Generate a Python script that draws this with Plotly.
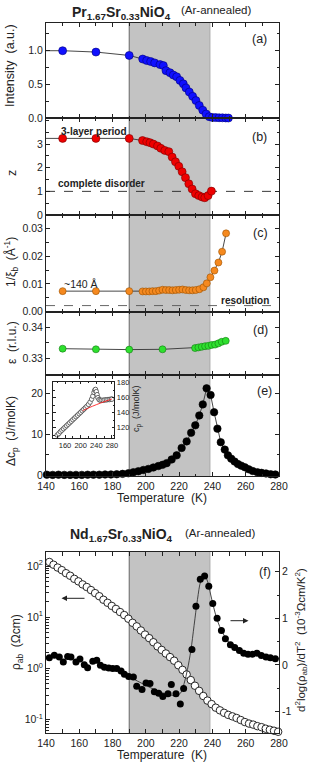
import plotly.graph_objects as go

W, H = 312, 763
FONT = "Liberation Sans, Arial, Helvetica, sans-serif"
INK = "#222222"

# ---------------- data ----------------
# (a) superlattice intensity
T_a = [150, 170, 190, 198.1, 200.5, 202.9, 205.3, 208.5, 210.5, 212.1, 214.5, 216.5, 218.5,
       220.5, 222.5, 224.1, 226.1, 228.1, 230.1, 232.1, 234.2, 236.2, 238.1, 240.0, 242.0,
       244.0, 246.0, 248.0, 249.6]
intensity = [1.0, 0.98, 0.93, 0.877, 0.855, 0.84, 0.82, 0.795, 0.78, 0.705, 0.675, 0.64, 0.615,
             0.56, 0.51, 0.45, 0.389, 0.325, 0.262, 0.19, 0.12, 0.064, 0.024, 0.012, 0.01,
             0.008, 0.007, 0.005, 0.004]
a_start_T, a_start = 140, 1.0

# (b) stacking z
T_b = [150, 170, 190, 198, 200.5, 202.5, 204.5, 207, 209, 211.4, 213.8, 215.8, 217.8, 219.8,
       221.8, 223.8, 225.8, 227.8, 229.8, 231.8, 233.8, 235.4, 237.4, 239.4]
z_vals = [3.24, 3.24, 3.24, 3.15, 3.10, 3.06, 3.00, 2.92, 2.82, 2.73, 2.68, 2.45, 2.25, 2.06,
          1.83, 1.58, 1.32, 1.10, 0.90, 0.82, 0.76, 0.73, 0.82, 1.01]
b_start_T, b_start = 140, 3.24
z_disorder = 1.0

# (c) inverse correlation length
T_c = [150, 170, 190, 198, 200, 202, 204, 206, 208, 210, 212, 214, 216, 218, 220, 222, 224,
       226, 228, 230, 232.2, 234.6, 236.6, 238.8, 241.2, 243.6, 245.8, 248.2]
inv_xi = [0.0074, 0.0074, 0.0074, 0.0073, 0.0073, 0.0073, 0.0074, 0.0074, 0.0076, 0.0079,
          0.0078, 0.0078, 0.0077, 0.0078, 0.0079, 0.0080, 0.0078, 0.0077, 0.0077, 0.0078,
          0.0081, 0.0088, 0.0102, 0.0124, 0.0148, 0.0177, 0.0216, 0.0282]
resolution = 0.0022

# (d) incommensurability
T_d = [150, 170, 190, 210, 229.6, 231.6, 233.6, 235.6, 237.6, 239.6, 241.6, 243.6, 245.6, 248]
eps = [0.3331, 0.3329, 0.3328, 0.3329, 0.3333, 0.3335, 0.3337, 0.3339, 0.3340, 0.3343,
       0.3344, 0.3348, 0.3353, 0.3356]

# (e) excess specific heat
T_e = [140.5, 144, 147.5, 151, 154.5, 158, 161.5, 165, 168.5, 172, 175.5, 179, 182.5, 186,
       189.5, 192.5, 195.5, 198.5, 201.5, 204.5, 207.5, 210, 212.5, 215.5, 218.5, 221.5,
       224.5, 227.2, 229.7, 232.1, 234.2, 236.5, 238.9, 241, 243, 245, 247.4, 249.3, 251.3,
       253.3, 255.3, 257.3, 259.5, 261.8, 264.2, 267, 269.5, 272.2, 275, 277.8]
dcp = [0.2, 0.15, 0.2, 0.15, 0.15, 0.15, 0.15, 0.2, 0.2, 0.2, 0.25, 0.25, 0.3, 0.4,
       0.55, 0.8, 1.05, 1.35, 1.6, 1.95, 2.3, 2.6, 3.0, 3.9, 4.9, 6.7,
       8.3, 10.4, 12.2, 14.6, 17.3, 21.2, 19.6, 15.4, 11.4, 8.1, 6.3, 4.9, 4.1,
       3.4, 2.8, 2.4, 2.0, 1.5, 1.1, 0.8, 0.65, 0.5, 0.3, 0.25]

# (e) inset: total specific heat and background
T_cp = [140, 144, 148, 152, 156, 160, 164, 168, 172, 176, 180, 184, 188, 192, 196, 200, 204,
        208, 212, 216, 220, 224, 228, 231, 234, 236, 238, 240, 242, 244, 247, 250, 254, 258,
        262, 266, 270, 274, 278, 280]
cp = [110, 112, 114.5, 116.5, 118.5, 120.5, 122.5, 124.5, 126.5, 128.5, 130.5, 132.5, 134.5,
      136.5, 138.5, 140.5, 142.5, 144.5, 146.5, 148.5, 151, 154, 158, 162, 167, 170, 171,
      168, 164, 160, 157.5, 156.5, 156.5, 156.5, 157, 157, 157.5, 157.5, 158, 158]
T_bg = [205, 210, 220, 230, 240, 250, 260, 270, 280]
cp_bg = [142.5, 143.8, 146.2, 148.5, 150.6, 152.6, 154.6, 156.4, 158.2]

# (f) Nd compound resistivity
T_rho = [142, 144.5, 147, 149.5, 152, 154.5, 157, 159.5, 162, 164.5, 167, 169.5, 172, 174.5,
         177, 179.5, 182, 184.5, 187, 189.5, 192, 194.5, 197, 199.5, 202, 204.5, 207, 209.5,
         212, 214.5, 217, 219.5, 222, 224.5, 227, 229.5, 232, 234.5, 237, 239.5, 242, 244.5,
         247, 249.5, 252, 254.5, 257, 259.5, 262, 264.5, 267, 269.5, 272, 274.5, 277, 279.5]
rho = [120, 106, 93.3, 83.2, 72.4, 64.6, 56.2, 50.1, 43.7, 38.9, 33.9, 29.5, 25.7, 21.9,
       19.1, 16.6, 14.5, 12.6, 11.0, 9.33, 7.76, 6.61, 5.50, 4.57, 3.89, 3.24, 2.69, 2.29,
       1.95, 1.66, 1.41, 1.15, 0.933, 0.759, 0.589, 0.457, 0.363, 0.288, 0.234, 0.200,
       0.170, 0.151, 0.135, 0.123, 0.115, 0.107, 0.0977, 0.0891, 0.0832, 0.0794, 0.0741,
       0.0708, 0.0661, 0.0631, 0.0603, 0.0575]

T_d2 = [142, 145, 148, 150.4, 153, 155, 158, 160.4, 163, 165, 168.1, 170.5, 172.7, 175.1,
        177.7, 180.1, 182.5, 185.1, 187.1, 189.7, 192.5, 194.5, 197.7, 200.1, 202.5, 205.1,
        207.7, 210.2, 213.3, 215.3, 218.1, 220.7, 222.7, 227.7, 230.1, 232.7, 235.3, 237.8,
        240.2, 242.8, 245.4, 247.8, 250.8, 253.4, 256.2, 258.8, 261.4, 264.2, 266.8, 269.4,
        272.2, 274.8, 277.8]
d2 = [0.155, 0.205, 0.17, 0.06, 0.18, 0.17, 0.06, 0.125, 0.0, -0.06, 0.08, 0.10, -0.01, -0.05,
      -0.07, -0.08, -0.08, -0.13, -0.20, -0.25, -0.26, -0.46, -0.53, -0.39, -0.40, -0.58,
      -0.61, -0.68, -0.62, -0.42, -0.62, -0.84, -0.51, 0.33, 1.26, 1.84, 1.91, 1.69,
      1.32, 1.0, 0.74, 0.56, 0.43, 0.37, 0.31, 0.25, 0.23, 0.23, 0.25, 0.20,
      0.17, 0.155, 0.13]
T_d2fit = [185, 190, 195, 200, 205, 210, 214, 218, 221, 223, 225, 227, 229, 231, 233, 235, 237,
           239, 241, 243, 246, 250, 255, 260, 265, 270, 275, 280]
d2fit = [-0.16, -0.25, -0.35, -0.44, -0.53, -0.6, -0.64, -0.66, -0.6, -0.4, -0.1, 0.3, 0.85,
         1.4, 1.8, 1.93, 1.8, 1.5, 1.2, 0.95, 0.7, 0.48, 0.34, 0.26, 0.22, 0.2, 0.16, 0.13]

band_T = [190, 238.5]

# ---------------- layout helpers ----------------
def px(x):
    return x / W

def py(y):
    return 1 - y / H

XDOM = [px(46), px(279)]
P = {  # top, bottom in pixels
    1: (23, 118.3),
    2: (118.3, 215),
    3: (215, 311.7),
    4: (311.7, 375),
    5: (375, 476),
    6: (551.7, 733.3),
}

tickfont = dict(family=FONT, size=10.5, color=INK)
base = dict(showline=True, linecolor=INK, linewidth=1, mirror="allticks", ticks="inside",
            ticklen=4, tickcolor=INK, tickwidth=1, showgrid=False, zeroline=False,
            tickfont=tickfont, automargin=False)

def minor(dt, ln=2.5):
    return dict(ticks="inside", ticklen=ln, tickcolor=INK, tickwidth=1, dtick=dt, showgrid=False)

fig = go.Figure()

line_style = dict(color="#333333", width=0.9)

def pts(x, y, xa, ya, color, edge, size, mode="lines+markers", line=None):
    return go.Scatter(x=x, y=y, xaxis=xa, yaxis=ya, mode=mode, cliponaxis=False,
                      line=line if line else line_style,
                      marker=dict(color=color, size=size, line=dict(color=edge, width=0.6)),
                      showlegend=False, hoverinfo="skip")

# (a)
fig.add_trace(go.Scatter(x=[a_start_T] + T_a, y=[a_start] + intensity, xaxis="x", yaxis="y",
                         mode="lines", line=line_style, showlegend=False))
fig.add_trace(pts(T_a, intensity, "x", "y", "#1010ff", "#00007a", 8, mode="markers"))
# (b)
fig.add_trace(go.Scatter(x=[140, 280], y=[z_disorder, z_disorder], xaxis="x2", yaxis="y2",
                         mode="lines", line=dict(color=INK, width=0.9, dash="dash"), showlegend=False))
fig.add_trace(go.Scatter(x=[b_start_T] + T_b, y=[b_start] + z_vals, xaxis="x2", yaxis="y2",
                         mode="lines", line=line_style, showlegend=False))
fig.add_trace(pts(T_b, z_vals, "x2", "y2", "#ee0000", "#7a0000", 8, mode="markers"))
# (c)
fig.add_trace(go.Scatter(x=[140, 280], y=[resolution, resolution], xaxis="x3", yaxis="y3",
                         mode="lines", line=dict(color="#555555", width=0.9, dash="dash"), showlegend=False))
fig.add_trace(pts(T_c, inv_xi, "x3", "y3", "#f5891f", "#9a5000", 7))
# (d)
fig.add_trace(pts(T_d, eps, "x4", "y4", "#2ee02e", "#127a12", 7))
# (e)
fig.add_trace(pts(T_e, dcp, "x5", "y5", "#000000", "#000000", 7.5))
# inset
fig.add_trace(go.Scatter(x=T_cp, y=cp, xaxis="x8", yaxis="y8", mode="markers", cliponaxis=True,
                         marker=dict(color="white", size=4.5, line=dict(color="#444444", width=0.8)),
                         showlegend=False))
fig.add_trace(go.Scatter(x=T_bg, y=cp_bg, xaxis="x8", yaxis="y8", mode="lines",
                         line=dict(color="#ff2020", width=0.9, shape="spline"), showlegend=False))
# (f)
fig.add_trace(go.Scatter(x=T_rho, y=rho, xaxis="x6", yaxis="y6", mode="markers", cliponaxis=False,
                         marker=dict(color="white", size=7.5, line=dict(color="#111111", width=0.9)),
                         showlegend=False))
fig.add_trace(go.Scatter(x=T_d2fit, y=d2fit, xaxis="x6", yaxis="y7", mode="lines",
                         line=dict(color="#333333", width=0.9, shape="spline"), showlegend=False))
fig.add_trace(go.Scatter(x=T_d2, y=d2, xaxis="x6", yaxis="y7", mode="markers", cliponaxis=False,
                         marker=dict(color="#000000", size=7), showlegend=False))

# ---------------- axes ----------------
lay = {}
for i in range(1, 7):
    top, bot = P[i]
    key = "xaxis" if i == 1 else f"xaxis{i}"
    lay[key] = dict(base, domain=XDOM, range=[140, 280], tick0=140, dtick=20, minor=minor(10),
                    anchor="y" if i == 1 else f"y{i}", showticklabels=(i in (5, 6)))
yr = {
    1: dict(range=[0, 1.41], tickvals=[0, 0.5, 1.0], ticktext=["0.0", "0.5", "1.0"], minor=minor(0.25)),
    2: dict(range=[0, 4.09], tickvals=[0, 1, 2, 3], ticktext=["0", "1", "2", "3"], minor=minor(0.5)),
    3: dict(range=[0, 0.0348], tickvals=[0, 0.01, 0.02, 0.03], ticktext=["0.00", "0.01", "0.02", "0.03"],
            minor=minor(0.005)),
    4: dict(range=[0.3247, 0.3449], tickvals=[0.33, 0.34], ticktext=["0.33", "0.34"], minor=minor(0.005)),
    5: dict(range=[-0.12, 24.45], tickvals=[0, 10, 20], ticktext=["0", "10", "20"], minor=minor(5)),
}
for i in range(1, 6):
    top, bot = P[i]
    key = "yaxis" if i == 1 else f"yaxis{i}"
    lay[key] = dict(base, domain=[py(bot), py(top)], anchor="x" if i == 1 else f"x{i}", **yr[i])

top, bot = P[6]
log_minor = [m * 10 ** e for e in range(-2, 3) for m in range(2, 10)]
lay["yaxis6"] = dict(base, type="log", domain=[py(bot), py(top)], anchor="x6", range=[-1.27, 2.28],
                     mirror=False, tickvals=[0.1, 1, 10, 100],
                     ticktext=["10<sup>-1</sup>", "10<sup>0</sup>", "10<sup>1</sup>", "10<sup>2</sup>"],
                     minor=dict(ticks="inside", ticklen=2.5, tickcolor=INK, tickvals=log_minor))
lay["yaxis7"] = dict(base, overlaying="y6", anchor="x6", side="right", range=[-1.47, 2.43],
                     mirror=False, tickvals=[-1, 0, 1, 2], ticktext=["-1", "0", "1", "2"],
                     minor=minor(0.5))

inset_font = dict(family=FONT, size=7.5, color=INK)
lay["xaxis8"] = dict(base, domain=[px(53.3), px(114.3)], anchor="y8", range=[130, 286],
                     tick0=160, dtick=40, minor=minor(20, 1.5), ticklen=2.5, tickfont=inset_font)
lay["yaxis8"] = dict(base, domain=[py(437.7), py(381.7)], anchor="x8", side="right",
                     range=[106.5, 181.3], tick0=120, dtick=20, minor=minor(10, 1.5), ticklen=2.5,
                     tickfont=inset_font)

# ---------------- shading ----------------
shapes = []
for i in range(1, 7):
    xr = "x" if i == 1 else f"x{i}"
    yrf = ("y" if i == 1 else f"y{i}") + " domain"
    shapes.append(dict(type="rect", layer="below", xref=xr, yref=yrf,
                       x0=band_T[0], x1=band_T[1], y0=0, y1=1,
                       fillcolor="#c3c3c3", line=dict(width=0)))
    shapes.append(dict(type="line", layer="below", xref=xr, yref=yrf,
                       x0=band_T[0], x1=band_T[0], y0=0, y1=1, line=dict(color="#666666", width=1)))
    shapes.append(dict(type="line", layer="below", xref=xr, yref=yrf,
                       x0=band_T[1], x1=band_T[1], y0=0, y1=1, line=dict(color="#a8a8a8", width=1)))

# ---------------- text ----------------
ann = []

def text(x, y, s, size=12, angle=0, color=INK, xanchor="center"):
    ann.append(dict(x=px(x), y=py(y), xref="paper", yref="paper", text=s, showarrow=False,
                    textangle=angle, xanchor=xanchor, yanchor="middle",
                    font=dict(family=FONT, size=size, color=color)))

formula_pr = "<b>Pr<sub>1.67</sub>Sr<sub>0.33</sub>NiO<sub>4</sub></b>"
formula_nd = "<b>Nd<sub>1.67</sub>Sr<sub>0.33</sub>NiO<sub>4</sub></b>"
text(121, 13, formula_pr, 14)
text(216, 10, "(Ar-annealed)", 11.5)
text(121, 535, formula_nd, 14)
text(220, 533, "(Ar-annealed)", 11.5)

for lab, (x, y) in zip("abcdef", [(259.5, 39.3), (259.5, 137.3), (260, 233.3), (260, 330),
                                   (264, 390.7), (265, 572.3)]):
    text(x, y, f"({lab})", 12.5)

text(10, 66, "Intensity  (a.u.)", 12.5, -90)
text(12, 173, "z", 12.5, -90)
text(11, 262, "1/ξ<sub>b</sub>  (Å<sup>-1</sup>)", 12, -90)
text(12, 343, "ε  (r.l.u.)", 12, -90)
text(12, 431, "Δc<sub>p</sub>  (J/molK)", 12, -90)
text(162, 498, "Temperature  (K)", 12)
text(137, 409, "c<sub>p</sub>  (J/molK)", 9, -90)
text(17, 642, "ρ<sub>ab</sub>  (Ωcm)", 12, -90)
text(301, 640, "d<sup>2</sup>log(ρ<sub>ab</sub>)/dT<sup>2</sup>  (10<sup>-3</sup>Ωcm/K<sup>2</sup>)", 11.5, -90)
text(162, 755, "Temperature  (K)", 12)

text(94, 131, "<b>3-layer period</b>", 10)
text(101, 184, "<b>complete disorder</b>", 10)
text(80.5, 283.5, "~140 Å", 10.5)
text(244.5, 300.7, "<b>resolution</b>", 10)

# arrows in (f)
ann.append(dict(x=px(61.5), y=py(598.3), ax=24.5, ay=0, xref="paper", yref="paper",
                axref="pixel", ayref="pixel", showarrow=True, arrowhead=2, arrowsize=1.1,
                arrowwidth=1, arrowcolor=INK, text=""))
ann.append(dict(x=px(248.5), y=py(620.7), ax=-19.5, ay=0, xref="paper", yref="paper",
                axref="pixel", ayref="pixel", showarrow=True, arrowhead=2, arrowsize=1.1,
                arrowwidth=1, arrowcolor=INK, text=""))

fig.update_layout(width=W, height=H, margin=dict(l=0, r=0, t=0, b=0, autoexpand=False),
                  paper_bgcolor="white", plot_bgcolor="rgba(0,0,0,0)",
                  font=dict(family=FONT, color=INK), showlegend=False,
                  shapes=shapes, annotations=ann, **lay)

fig.write_html("out.html", config={"displayModeBar": False},
               post_script="document.body.style.margin='0px';document.body.style.padding='0px';")
